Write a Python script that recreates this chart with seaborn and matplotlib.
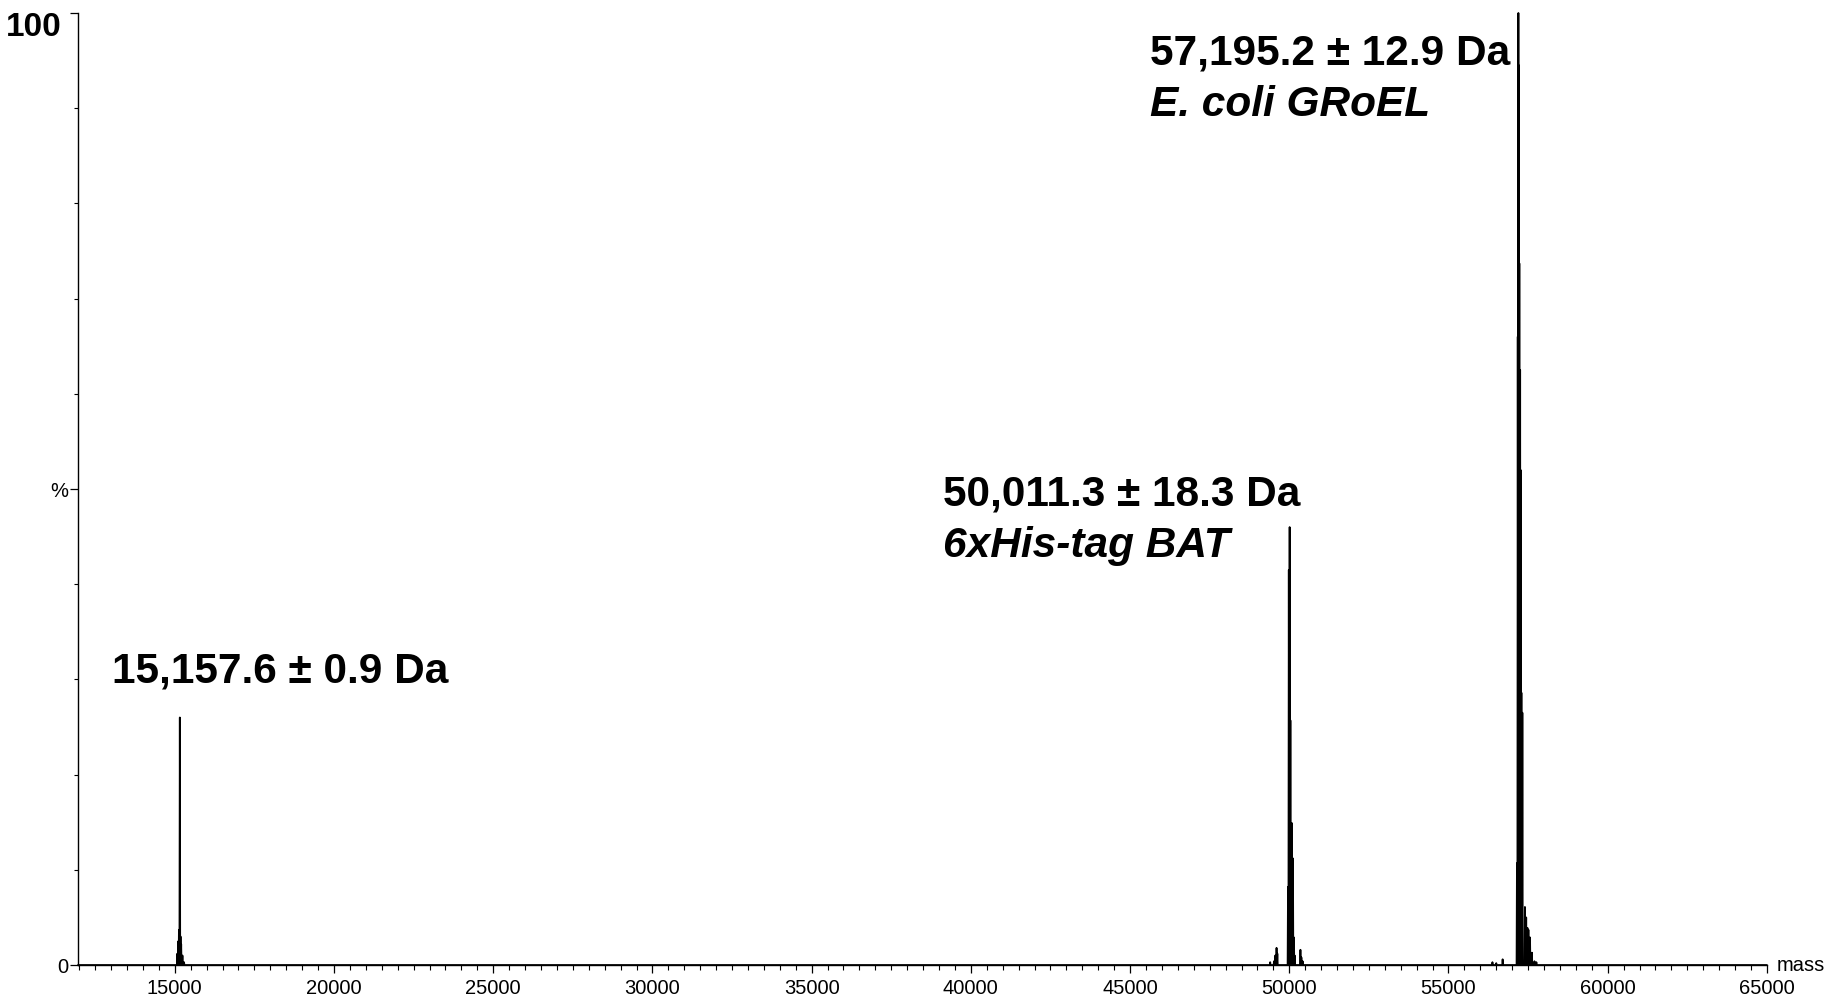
import numpy as np
import pandas as pd
import matplotlib
matplotlib.use("Agg")
import matplotlib.pyplot as plt
from matplotlib.ticker import MultipleLocator, FixedLocator, FixedFormatter
import seaborn as sns

# Deconvoluted mass spectrum: peak masses (Da) and relative intensities (%)
lyso_mass = [15080, 15110, 15130, 15157.6, 15180, 15200, 15240, 15290]
lyso_int = [1.2, 2.5, 3.7, 26.0, 3.0, 2.2, 1.0, 0.3]

bat_mass = [49400, 49520, 49560, 49600, 49625, 49960, 49985, 50011.3, 50035,
            50060, 50085, 50115, 50145, 50170, 50350, 50380, 50420]
bat_int = [0.3, 0.4, 1.0, 1.8, 1.2, 8.2, 41.5, 46.0, 25.7,
           6.0, 14.9, 11.2, 2.9, 1.0, 1.6, 0.8, 0.4]

groel_mass = [56380, 56500, 56700, 57150, 57175, 57195.2, 57210, 57225, 57250,
              57265, 57290, 57320, 57400, 57440, 57480, 57510, 57560, 57620,
              57700, 57760]
groel_int = [0.3, 0.2, 0.6, 10.7, 66.0, 100.0, 94.5, 73.7, 62.5,
             52.0, 28.6, 26.5, 6.1, 5.0, 3.9, 3.7, 2.9, 1.3,
             0.4, 0.3]

x_range = (11960, 65000)
x_major = [15000, 20000, 25000, 30000, 35000, 40000, 45000, 50000, 55000, 60000, 65000]
x_labels = ["15000", "20000", "25000", "30000", "35000", "40000", "45000",
            "50000", "55000", "60000", "65000"]

labels = [
    ("15,157.6 ± 0.9 Da", None, 13020, 29.7),
    ("50,011.3 ± 18.3 Da", "6xHis-tag BAT", 39120, 48.3),
    ("57,195.2 ± 12.9 Da", "E. coli GRoEL", 45620, 94.6),
]

sns.set_theme(style="ticks")
plt.rcParams["font.family"] = ["Liberation Sans", "DejaVu Sans"]

fig = plt.figure(figsize=(18.44, 9.99), dpi=100)
ax = fig.add_axes([0.0423, 0.034, 0.9159, 0.953])

# Build a stick profile: each peak rises from the baseline and returns to it
masses = np.array(lyso_mass + bat_mass + groel_mass, dtype=float)
heights = np.array(lyso_int + bat_int + groel_int, dtype=float)
order = np.argsort(masses)
half_w = 12.0
px, py = [x_range[0]], [0.0]
for m, h in zip(masses[order], heights[order]):
    px += [m - half_w, m, m + half_w]
    py += [0.0, h, 0.0]
px.append(x_range[1])
py.append(0.0)
profile = pd.DataFrame({"mass": px, "intensity": py})

sns.lineplot(data=profile, x="mass", y="intensity", sort=False, estimator=None,
             color="black", linewidth=1.3, ax=ax, clip_on=False)

ax.set_xlim(*x_range)
ax.set_ylim(0, 100)
sns.despine(ax=ax)
for s in ("left", "bottom"):
    ax.spines[s].set_linewidth(1.0)
    ax.spines[s].set_color("black")

# x axis ticks
ax.xaxis.set_major_locator(FixedLocator(x_major))
ax.xaxis.set_major_formatter(FixedFormatter(x_labels))
ax.xaxis.set_minor_locator(MultipleLocator(500))
ax.tick_params(axis="x", which="major", length=6, width=0.9, color="black",
               labelsize=14.5, pad=4, labelcolor="black")
ax.tick_params(axis="x", which="minor", length=3.5, width=0.8, color="black")

# y axis ticks
ax.yaxis.set_major_locator(FixedLocator([0, 50, 100]))
ax.yaxis.set_major_formatter(FixedFormatter(["0", "%", ""]))
ax.yaxis.set_minor_locator(MultipleLocator(10))
ax.tick_params(axis="y", which="major", length=6, width=0.9, color="black",
               labelsize=14.5, pad=1, labelcolor="black")
ax.tick_params(axis="y", which="minor", length=3, width=0.8, color="black")

ax.set_xlabel("")
ax.set_ylabel("")
ax.grid(False)

ax.annotate("100", xy=(0, 100), xycoords=("axes fraction", "data"),
            xytext=(-11.5, 0.5), textcoords="offset points",
            ha="right", va="top", fontsize=24, fontweight="bold", color="black",
            annotation_clip=False)
ax.annotate("mass", xy=(1, 0), xycoords="axes fraction",
            xytext=(7, 0), textcoords="offset points",
            ha="left", va="center", fontsize=14.5, color="black",
            annotation_clip=False)

for main, sub, lx, ly in labels:
    ax.text(lx, ly, main, fontsize=30.5, fontweight="bold", ha="left",
            va="baseline", color="black")
    if sub:
        ax.text(lx, ly - 5.45, sub, fontsize=30.5, fontweight="bold",
                fontstyle="italic", ha="left", va="baseline", color="black")

fig.savefig("out.png", dpi=100, facecolor="white")
